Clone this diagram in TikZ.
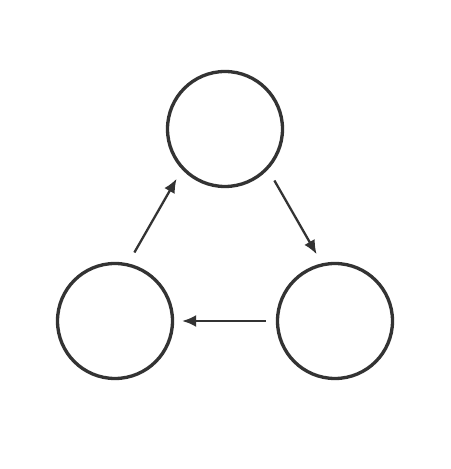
\documentclass[tikz,border=0pt]{standalone}
\usepackage{tikz}
\usetikzlibrary{
  positioning,
  arrows.meta
}
\definecolor{ink}{HTML}{333333}

\begin{document}
\begin{tikzpicture}[>={Latex[length=2.8mm,width=2.4mm]},
    stage/.style={circle,draw=ink,line width=1.9pt,minimum size=2.3cm,inner sep=0pt},
    flow/.style={->,draw=ink,fill=ink,line width=1.3pt,shorten <=0.2cm,shorten >=0.16cm}]

    \useasboundingbox (0,0) rectangle (9,9.38);

    \node[stage] (top) at (4.5,6.8) {};
    \node[stage] (left) at (2.3,2.96) {};
    \node[stage] (right) at (6.7,2.96) {};

    \draw[flow,transform canvas={xshift=0.3cm,yshift=0.17cm}] (top) -- (right);
    \draw[flow] (right) -- (left);
    \draw[flow,transform canvas={xshift=-0.3cm,yshift=0.17cm}] (left) -- (top);
\end{tikzpicture}
\end{document}
